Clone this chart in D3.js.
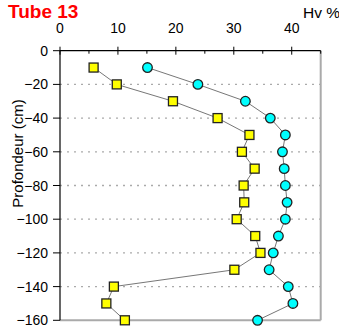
<!DOCTYPE html>
<html>
<head>
<meta charset="utf-8">
<script src="https://cdn.jsdelivr.net/npm/d3@7"></script>
<style>
  body { margin: 0; background: #fff; }
  text { font-family: "Liberation Sans", Arial, sans-serif; }
</style>
</head>
<body>
<div id="chart"></div>
<script>
// depths (cm) and Hv % readings for the two series
var depths = [-10, -20, -30, -40, -50, -60, -70, -80, -90, -100, -110, -120, -130, -140, -150, -160];
var hvSquares = [5.8, 9.8, 19.5, 27.2, 32.7, 31.4, 33.6, 31.7, 31.8, 30.5, 33.7, 34.6, 30.1, 9.3, 8.0, 11.2];
var hvCircles = [15.1, 23.8, 32.0, 36.3, 38.9, 38.4, 38.7, 38.9, 39.2, 38.9, 37.7, 36.8, 36.1, 39.4, 40.2, 34.1];
var xTicks = [0, 10, 20, 30, 40];
var yTicks = [0, -20, -40, -60, -80, -100, -120, -140, -160];

var W = 339, H = 333;
var margin = {top: 50.7, left: 60, right: 18.3, bottom: 12.7};
var fmt = d3.format("d");

var svg = d3.select("#chart").append("svg")
  .attr("width", W)
  .attr("height", H);

var x = d3.scaleLinear().domain([0, 45]).range([margin.left, W - margin.right]);
var y = d3.scaleLinear().domain([0, -160]).range([margin.top, H - margin.bottom]);

// dotted gridlines
svg.selectAll(".grid")
  .data(yTicks.filter(function(d){ return d != 0 && d != -160; }))
  .enter().append("line")
  .attr("x1", x(0)).attr("x2", x(45))
  .attr("y1", function(d){ return y(d); })
  .attr("y2", function(d){ return y(d); })
  .style("stroke", "#aaa")
  .style("stroke-width", "1.3px")
  .style("stroke-dasharray", "2,5");

// right and bottom frame
svg.append("line")
  .attr("x1", x(45)).attr("x2", x(45))
  .attr("y1", y(0)).attr("y2", y(-160))
  .style("stroke", "#aaa").style("stroke-width", "2px");
svg.append("line")
  .attr("x1", x(0)).attr("x2", x(45))
  .attr("y1", y(-160)).attr("y2", y(-160))
  .style("stroke", "#aaa").style("stroke-width", "2px");

// top axis
var xAxis = svg.append("g")
  .attr("transform", "translate(0," + y(0) + ")");
xAxis.append("line")
  .attr("x1", x(0)).attr("x2", x(45))
  .style("stroke", "#000").style("stroke-width", "1.2px");
xAxis.selectAll(".major")
  .data(xTicks)
  .enter().append("line")
  .attr("x1", function(d){ return x(d); })
  .attr("x2", function(d){ return x(d); })
  .attr("y1", -4).attr("y2", 4)
  .style("stroke", "#000");
xAxis.selectAll(".minor")
  .data([5, 15, 25, 35, 45])
  .enter().append("line")
  .attr("x1", function(d){ return x(d); })
  .attr("x2", function(d){ return x(d); })
  .attr("y1", 0).attr("y2", 3)
  .style("stroke", "#000");
xAxis.selectAll(".lbl")
  .data(xTicks)
  .enter().append("text")
  .attr("x", function(d){ return x(d); })
  .attr("y", 33.3 - y(0))
  .attr("text-anchor", "middle")
  .style("font-size", "14px")
  .text(fmt);

// left axis
var yAxis = svg.append("g");
yAxis.append("line")
  .attr("x1", x(0)).attr("x2", x(0))
  .attr("y1", y(0)).attr("y2", y(-160))
  .style("stroke", "#000").style("stroke-width", "1.2px");
yAxis.selectAll(".tick")
  .data(yTicks)
  .enter().append("line")
  .attr("x1", x(0) - 7).attr("x2", x(0))
  .attr("y1", function(d){ return y(d); })
  .attr("y2", function(d){ return y(d); })
  .style("stroke", "#000");
yAxis.selectAll(".lbl")
  .data(yTicks)
  .enter().append("text")
  .attr("x", x(0) - 12)
  .attr("y", function(d){ return y(d); })
  .attr("dy", "0.36em")
  .attr("text-anchor", "end")
  .style("font-size", "14px")
  .text(fmt);

// connecting lines
var line = d3.line()
  .x(function(d){ return x(d[0]); })
  .y(function(d){ return y(d[1]); });

[hvSquares, hvCircles].forEach(function(s){
  svg.append("path")
    .datum(d3.zip(s, depths))
    .attr("d", line)
    .style("fill", "none")
    .style("stroke", "#777")
    .style("stroke-width", "1px");
});

// markers
svg.selectAll(".sq")
  .data(d3.zip(hvSquares, depths))
  .enter().append("rect")
  .attr("x", function(d){ return x(d[0]) - 4.5; })
  .attr("y", function(d){ return y(d[1]) - 4.5; })
  .attr("width", 9).attr("height", 9)
  .style("fill", "#ffff00")
  .style("stroke", "#222")
  .style("stroke-width", "1.3px");

svg.selectAll(".ci")
  .data(d3.zip(hvCircles, depths))
  .enter().append("circle")
  .attr("cx", function(d){ return x(d[0]); })
  .attr("cy", function(d){ return y(d[1]); })
  .attr("r", 4.8)
  .style("fill", "#00ffff")
  .style("stroke", "#222")
  .style("stroke-width", "1.3px");

// titles
svg.append("text")
  .attr("x", 8).attr("y", 17.5)
  .style("font-size", "19px")
  .style("font-weight", "bold")
  .style("fill", "#ff0000")
  .text("Tube 13");

svg.append("text")
  .attr("x", 303).attr("y", 18.3)
  .style("font-size", "15.5px")
  .text("Hv %");

svg.append("text")
  .attr("transform", "translate(23,153.5) rotate(-90)")
  .attr("text-anchor", "middle")
  .style("font-size", "15px")
  .text("Profondeur (cm)");
</script>
</body>
</html>
